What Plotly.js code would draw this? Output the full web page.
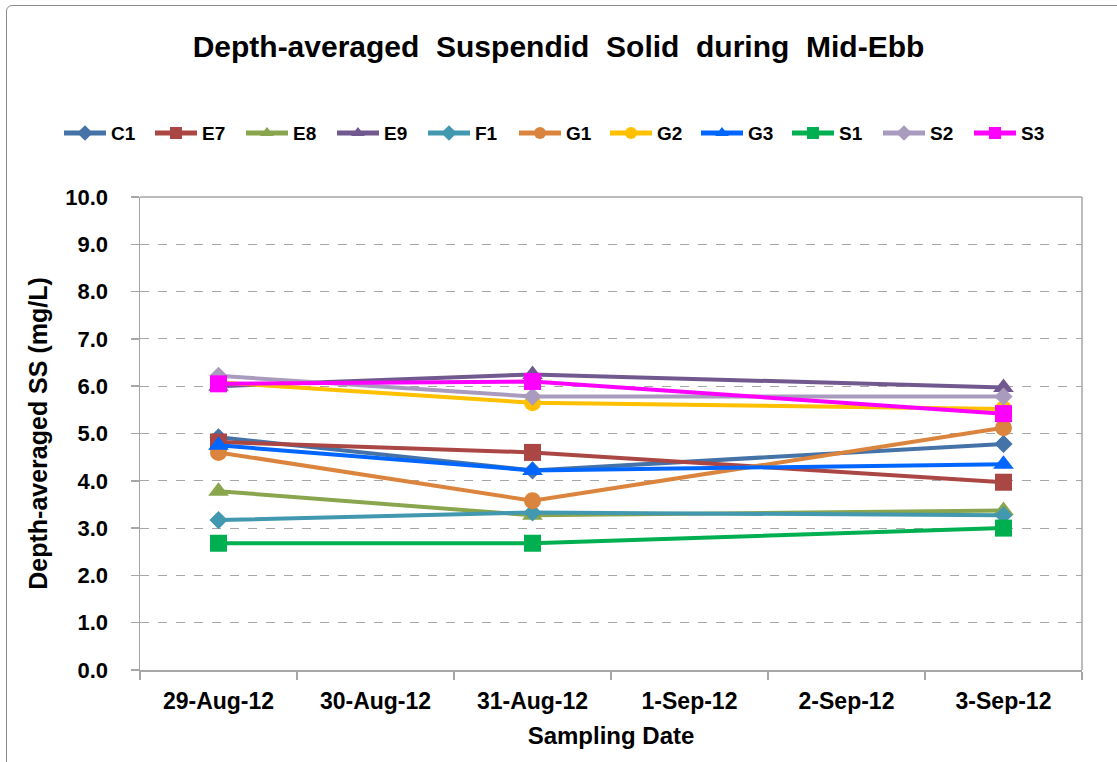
<!DOCTYPE html>
<html>
<head>
<meta charset="utf-8">
<script src="https://cdn.plot.ly/plotly-3.0.1.min.js"></script>
<style>
  html, body { margin: 0; padding: 0; background: #fff; overflow: hidden; }
  #chart { width: 1117px; height: 762px; position: relative; }
  #frame { position: absolute; left: 6px; top: 5px; width: 1200px; height: 900px;
           border: 1.5px solid #8c8c8c; border-radius: 6px; pointer-events: none; }
</style>
</head>
<body>
<div id="chart"></div>
<div id="frame"></div>
<script>
// Categories (x axis)
const dates = ["29-Aug-12", "30-Aug-12", "31-Aug-12", "1-Sep-12", "2-Sep-12", "3-Sep-12"];
// Series values (null = no sampling that day)
const C1 = [4.92, null, 4.22, null, null, 4.78];
const E7 = [4.82, null, 4.60, null, null, 3.97];
const E8 = [3.78, null, 3.27, null, null, 3.37];
const E9 = [6.00, null, 6.25, null, null, 5.97];
const F1 = [3.17, null, 3.33, null, null, 3.27];
const G1 = [4.60, null, 3.58, null, null, 5.12];
const G2 = [6.08, null, 5.65, null, null, 5.52];
const G3 = [4.75, null, 4.22, null, null, 4.35];
const S1 = [2.68, null, 2.68, null, null, 3.00];
const S2 = [6.22, null, 5.78, null, null, 5.78];
const S3 = [6.05, null, 6.10, null, null, 5.42];

const seriesNames = ["C1", "E7", "E8", "E9", "F1", "G1", "G2", "G3", "S1", "S2", "S3"];
const seriesValues = [C1, E7, E8, E9, F1, G1, G2, G3, S1, S2, S3];
const colors = ["#4572A7", "#AA4643", "#89A54E", "#71588F", "#4198AF", "#DB843D",
                "#FFC000", "#0066FF", "#00B050", "#A99BBD", "#FF00FF"];
const symbols = ["diamond", "square", "triangle-up", "triangle-up", "diamond", "circle",
                 "circle", "triangle-up", "square", "diamond", "square"];
const sizeBySymbol = { "diamond": 14, "square": 17, "triangle-up": 18, "circle": 17 };

const traces = seriesNames.map((name, i) => ({
  type: "scatter",
  mode: "lines+markers",
  name: name,
  x: dates,
  y: seriesValues[i],
  connectgaps: true,
  line: { color: colors[i], width: 4 },
  marker: { color: colors[i], symbol: symbols[i], size: sizeBySymbol[symbols[i]], line: { width: 0 } }
}));

const font = "Liberation Sans, Arial, sans-serif";

const layout = {
  width: 1117,
  height: 762,
  margin: { l: 140, r: 35, t: 197, b: 92 },
  paper_bgcolor: "#ffffff",
  plot_bgcolor: "#ffffff",
  font: { family: font, color: "#000000" },
  title: {
    text: "<b>Depth-averaged  Suspendid  Solid  during  Mid-Ebb</b>",
    font: { family: font, size: 30, color: "#000" },
    x: 0.5, xanchor: "center",
    y: 1 - 46 / 762, yanchor: "middle"
  },
  showlegend: true,
  legend: {
    orientation: "h",
    x: -0.086, xanchor: "left",
    y: 1.135, yanchor: "middle",
    font: { family: font, size: 19, color: "#000", weight: "bold" },
    itemsizing: "constant",
    itemwidth: 42,
    entrywidth: 34,
    entrywidthmode: "pixels",
    bgcolor: "rgba(0,0,0,0)"
  },
  xaxis: {
    type: "category",
    categoryorder: "array",
    categoryarray: dates,
    range: [-0.5, 5.5],
    tickmode: "array",
    tickvals: dates,
    ticktext: dates,
    tickson: "boundaries",
    ticks: "outside",
    ticklen: 8,
    tickcolor: "#A6A6A6",
    tickwidth: 1.5,
    ticklabelstandoff: 10,
    showline: true,
    linecolor: "#A6A6A6",
    linewidth: 1.5,
    mirror: false,
    showgrid: false,
    zeroline: false,
    tickfont: { family: font, size: 23, color: "#000", weight: "bold" },
    title: { text: "<b>Sampling Date</b>", font: { family: font, size: 24, color: "#000" }, standoff: 14 }
  },
  yaxis: {
    range: [0, 10],
    tickmode: "linear",
    tick0: 0,
    dtick: 1,
    tickformat: ".1f",
    ticks: "outside",
    ticklen: 8,
    tickcolor: "#A6A6A6",
    tickwidth: 1.5,
    ticklabelstandoff: 18,
    showline: true,
    linecolor: "#A6A6A6",
    linewidth: 1.5,
    showgrid: true,
    gridcolor: "#A6A6A6",
    griddash: "dash",
    gridwidth: 1,
    zeroline: false,
    tickfont: { family: font, size: 22, color: "#000", weight: "bold" },
    title: { text: "<b>Depth-averaged SS (mg/L)</b>", font: { family: font, size: 25, color: "#000" }, standoff: 10 }
  },
  shapes: [
    { type: "line", xref: "paper", yref: "paper", x0: 0, x1: 1, y0: 1, y1: 1,
      line: { color: "#A6A6A6", width: 1.5 } },
    { type: "line", xref: "paper", yref: "paper", x0: 1, x1: 1, y0: 0, y1: 1,
      line: { color: "#A6A6A6", width: 1.5 } }
  ]
};

Plotly.newPlot("chart", traces, layout, { displayModeBar: false, staticPlot: true });
</script>
</body>
</html>
